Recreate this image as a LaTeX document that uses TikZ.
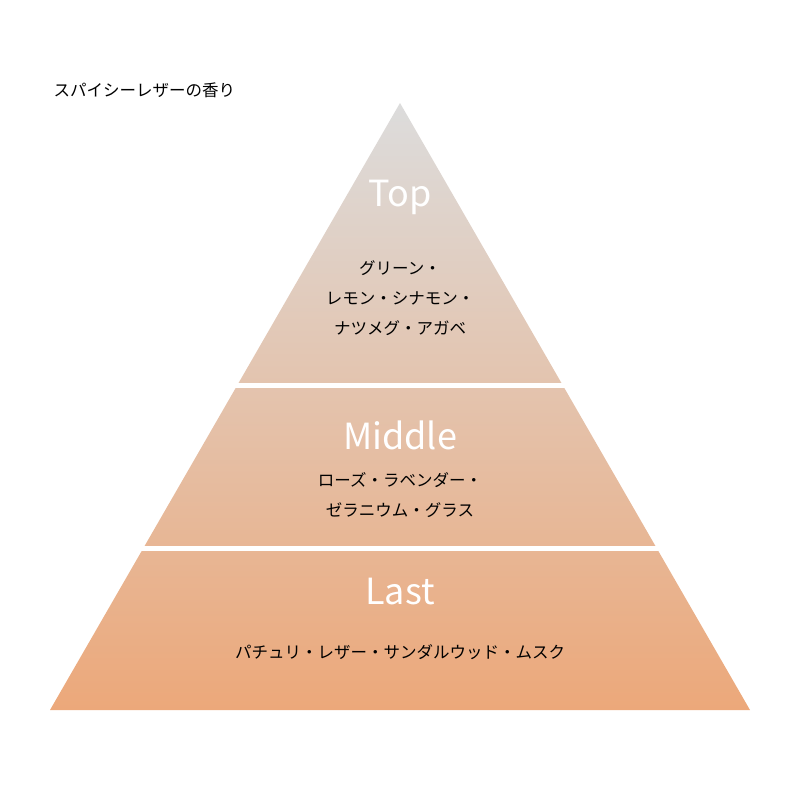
\documentclass[tikz,border=0pt]{standalone}
\usepackage{fontspec}
\setmainfont{Noto Sans CJK JP}
\begin{document}
\begin{tikzpicture}[x=1pt,y=-1pt,
  lbl/.style={text=white,font=\fontsize{36}{40}\selectfont},
  jp/.style={text=black,align=center,font=\fontsize{16.5}{30}\selectfont}]
\useasboundingbox (0,0) rectangle (800,800);
\shade[top color={rgb,255:red,220;green,220;blue,220},bottom color={rgb,255:red,236;green,168;blue,122}]
  (400,103) -- (750,710) -- (50,710) -- cycle;
\draw[white,line width=5pt] (200,385) -- (600,385);
\draw[white,line width=5pt] (100,548) -- (700,548);
\node[anchor=west,font=\fontsize{16.5}{20}\selectfont] (title) at (50,90) {スパイシーレザーの香り};
\node[lbl] (top) at (400,197) {Top};
\node[jp] (topt) at (400,298) {グリーン・\\レモン・シナモン・\\ナツメグ・アガベ};
\node[lbl] (mid) at (400,435) {Middle};
\node[jp] (midt) at (400,495) {ローズ・ラベンダー・\\ゼラニウム・グラス};
\node[lbl] (last) at (400,592) {Last};
\node[jp] (lastt) at (400,652) {パチュリ・レザー・サンダルウッド・ムスク};
\end{tikzpicture}
\end{document}
